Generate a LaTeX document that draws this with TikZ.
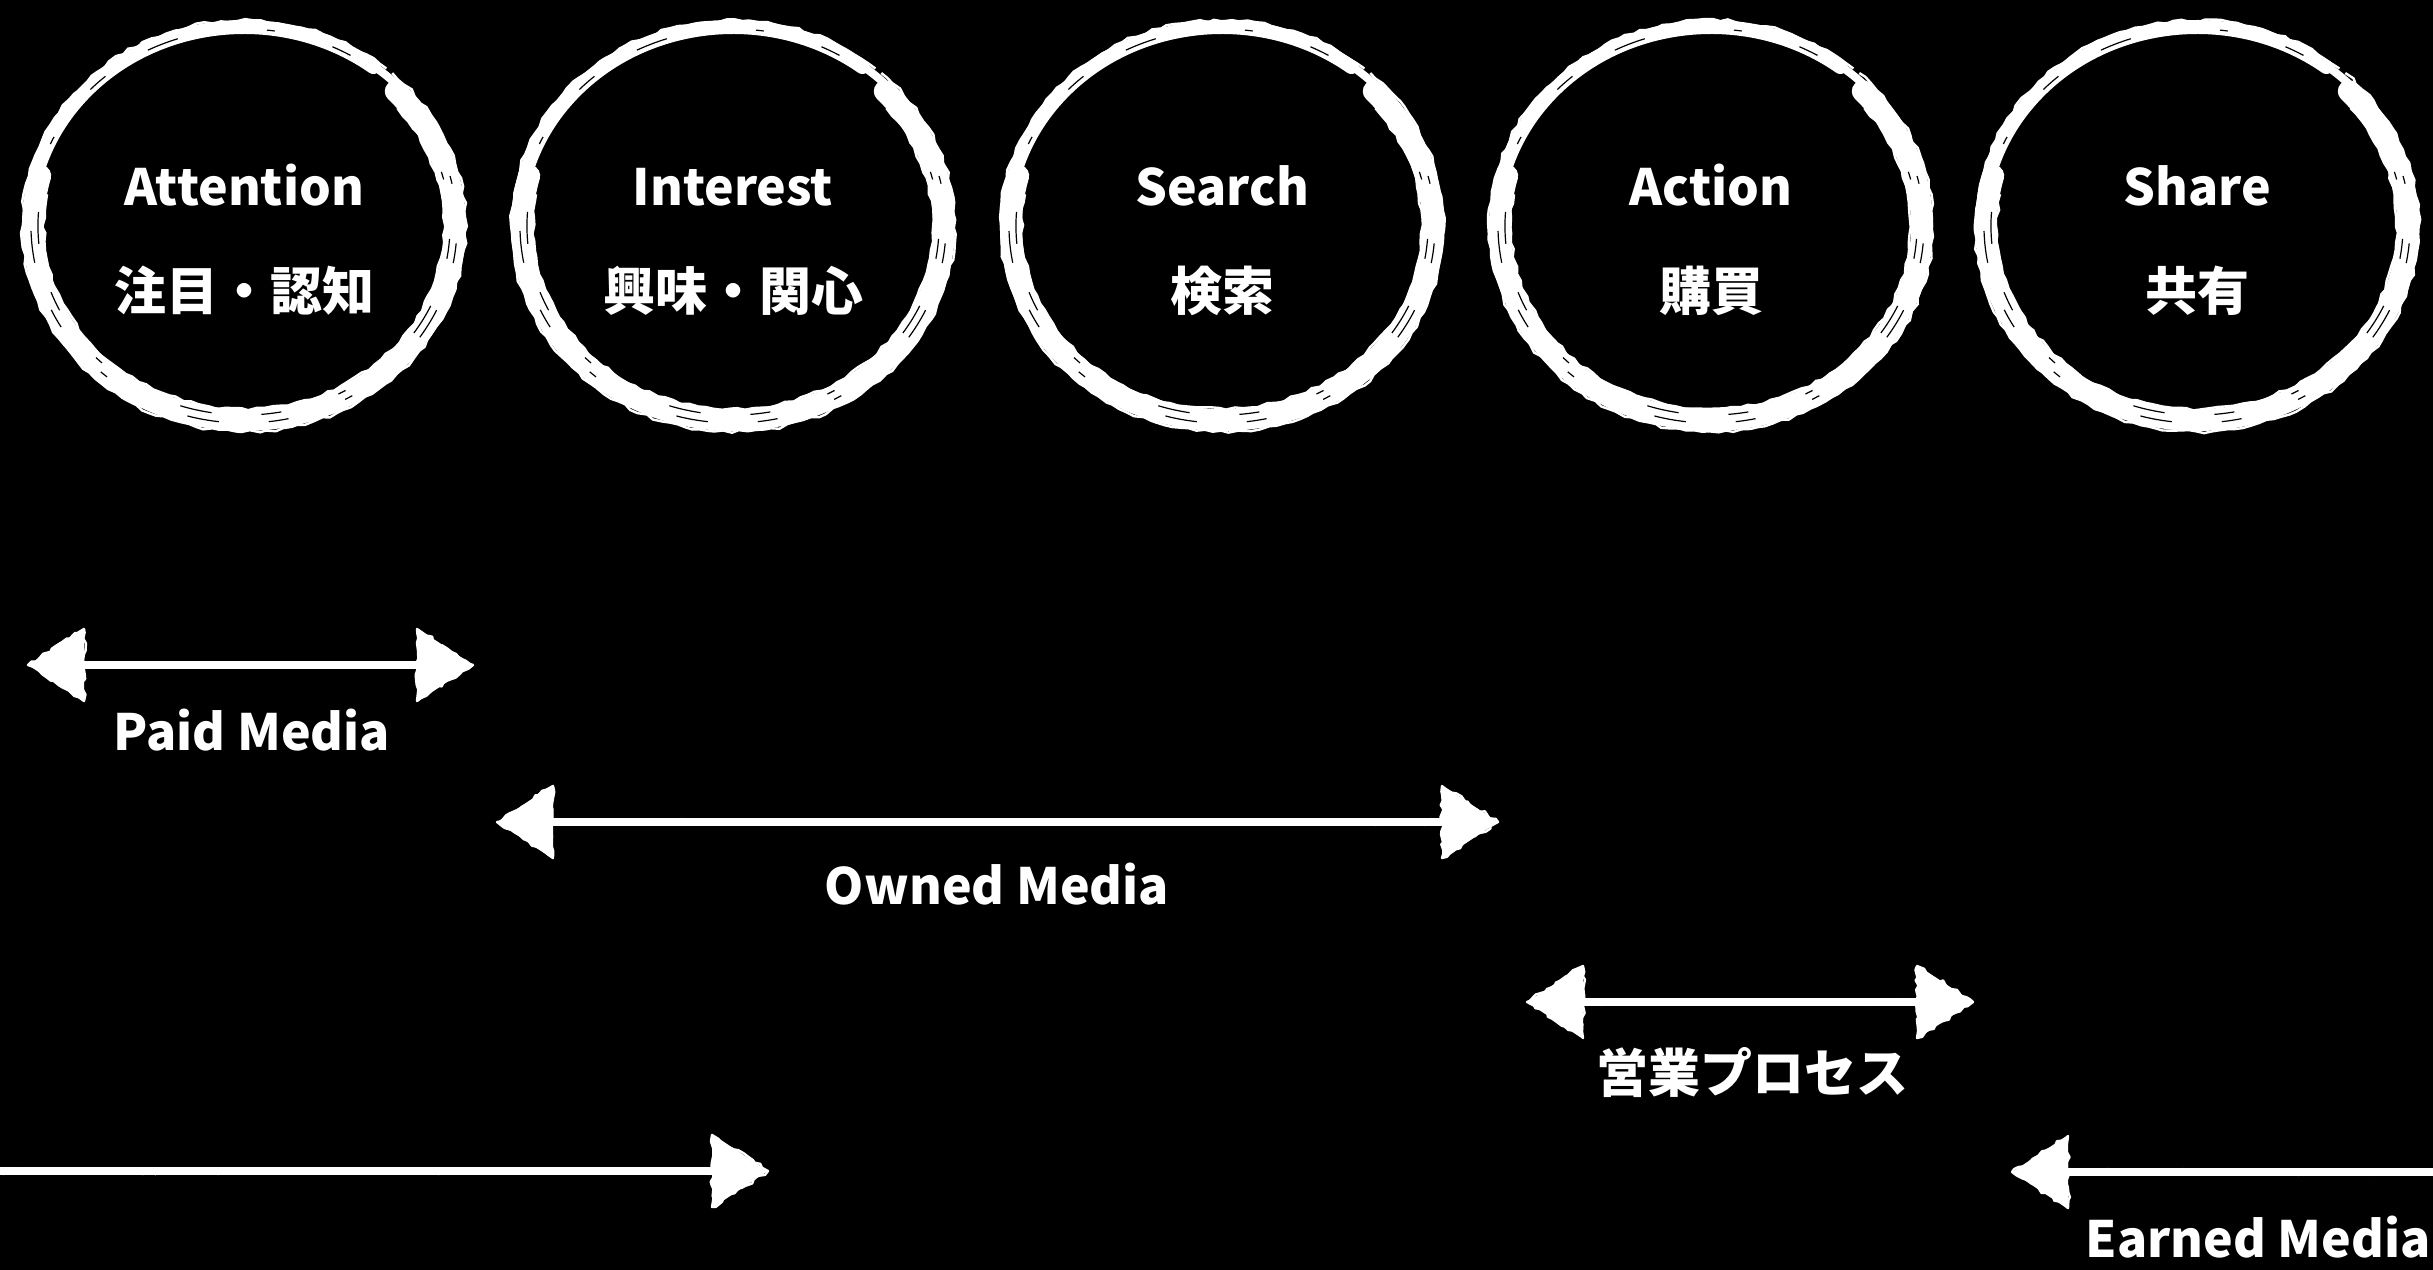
\documentclass[tikz,border=0pt]{standalone}
\usepackage{fontspec}
\setmainfont{Noto Sans CJK JP}
\usetikzlibrary{arrows.meta,decorations.pathmorphing}
\tikzset{
  lblE/.style={text=white, font=\bfseries\fontsize{25pt}{30pt}\selectfont, inner sep=0pt, anchor=base},
  lblJ/.style={text=white, font=\bfseries\fontsize{26pt}{30pt}\selectfont, inner sep=0pt, anchor=base},
  tipL/.tip={Triangle[length=28pt,width=36pt]},
  chalkarrow/.style={draw=white, fill=white, line width=4pt},
  chalkrough/.style={draw=white, line width=1.6pt, decorate, decoration={random steps, segment length=3pt, amplitude=1.2pt}},
  headrough/.style={draw=white, line width=1.2pt, line join=round, decorate, decoration={random steps, segment length=2.5pt, amplitude=1pt}},
  ringmain/.style={draw=white, line cap=round},
  ringedge/.style={draw=white, line width=1.2pt, decorate, decoration={random steps, segment length=4pt, amplitude=0.8pt}},
  ringstreak/.style={draw=black, line width=0.6pt, dash pattern=on 10pt off 30pt on 4pt off 45pt on 16pt off 25pt}
}
% \rarc{style}{start}{end}{xr}{yr}
\newcommand\rarc[5]{%
  \draw[#1] ([shift={(#2:#4 and #5)}]rc) arc[start angle=#2, end angle=#3, x radius=#4, y radius=#5];}
\newcommand\brushring[2]{%
  \coordinate (rc) at (#1,#2);
  \rarc{ringmain, line width=7pt}{53}{175}{107.5pt}{99.5pt}
  \rarc{ringmain, line width=11pt}{165}{404}{105.5pt}{97pt}
  \rarc{ringmain, line width=4pt}{395}{412}{108pt}{100pt}
  \rarc{ringedge}{50}{408}{110.8pt}{102.8pt}
  \rarc{ringedge}{170}{400}{100pt}{91.5pt}
  \rarc{ringstreak}{60}{395}{106.5pt}{98.5pt}
  \rarc{ringstreak, dash phase=35pt}{70}{390}{103pt}{94.5pt}
}
\newcommand\headL[1]{\draw[headrough] (#1) -- ++(28pt,18pt) -- ++(0,-36pt) -- cycle;}
\newcommand\headR[1]{\draw[headrough] (#1) -- ++(-28pt,18pt) -- ++(0,-36pt) -- cycle;}
\begin{document}
\pgfmathsetseed{7}
\begin{tikzpicture}[x=0.5pt,y=-0.5pt]
\useasboundingbox (0,0) rectangle (2433,1270);
\fill[black] (0,0) rectangle (2433,1270);
\clip (0,0) rectangle (2433,1270);

% rings
\brushring{244}{226}
\brushring{733}{226}
\brushring{1222}{226}
\brushring{1711}{226}
\brushring{2197}{226}

% ring texts
\node[lblE] (attE) at (244,205) {Attention};
\node[lblJ] (attJ) at (244,310) {注目・認知};
\node[lblE] (intE) at (733,205) {Interest};
\node[lblJ] (intJ) at (733,310) {興味・関心};
\node[lblE] (seaE) at (1222,205) {Search};
\node[lblJ] (seaJ) at (1222,310) {検索};
\node[lblE] (actE) at (1711,205) {Action};
\node[lblJ] (actJ) at (1711,310) {購買};
\node[lblE] (shaE) at (2197,205) {Share};
\node[lblJ] (shaJ) at (2197,310) {共有};

% arrow end points
\coordinate (paidL) at (28,665);
\coordinate (paidR) at (473,665);
\coordinate (ownL) at (497,822);
\coordinate (ownR) at (1498,822);
\coordinate (salesL) at (1527,1002);
\coordinate (salesR) at (1973,1002);
\coordinate (blL) at (-80,1171);
\coordinate (blR) at (768,1171);
\coordinate (earnL) at (2012,1172);
\coordinate (earnR) at (2520,1172);

\draw[chalkarrow, {tipL}-{tipL}] (paidL) -- (paidR);
\draw[chalkarrow, {tipL}-{tipL}] (ownL) -- (ownR);
\draw[chalkarrow, {tipL}-{tipL}] (salesL) -- (salesR);
\draw[chalkarrow, -{tipL}] (blL) -- (blR);
\draw[chalkarrow, {tipL}-] (earnL) -- (earnR);

\draw[chalkrough] ([xshift=20pt]paidL) -- ([xshift=-20pt]paidR);
\draw[chalkrough] ([xshift=20pt]ownL) -- ([xshift=-20pt]ownR);
\draw[chalkrough] ([xshift=20pt]salesL) -- ([xshift=-20pt]salesR);
\draw[chalkrough] (blL) -- ([xshift=-20pt]blR);
\draw[chalkrough] ([xshift=20pt]earnL) -- (earnR);

\headL{paidL} \headR{paidR}
\headL{ownL} \headR{ownR}
\headL{salesL} \headR{salesR}
\headR{blR}
\headL{earnL}

% labels
\node[lblE] (paid) at (252,750) {Paid Media};
\node[lblE] (owned) at (997,904) {Owned Media};
\node[lblJ] (sales) at (1752,1092) {営業プロセス};
\node[lblE, anchor=base east] (earned) at (2431,1257) {Earned Media};
\end{tikzpicture}
\end{document}
